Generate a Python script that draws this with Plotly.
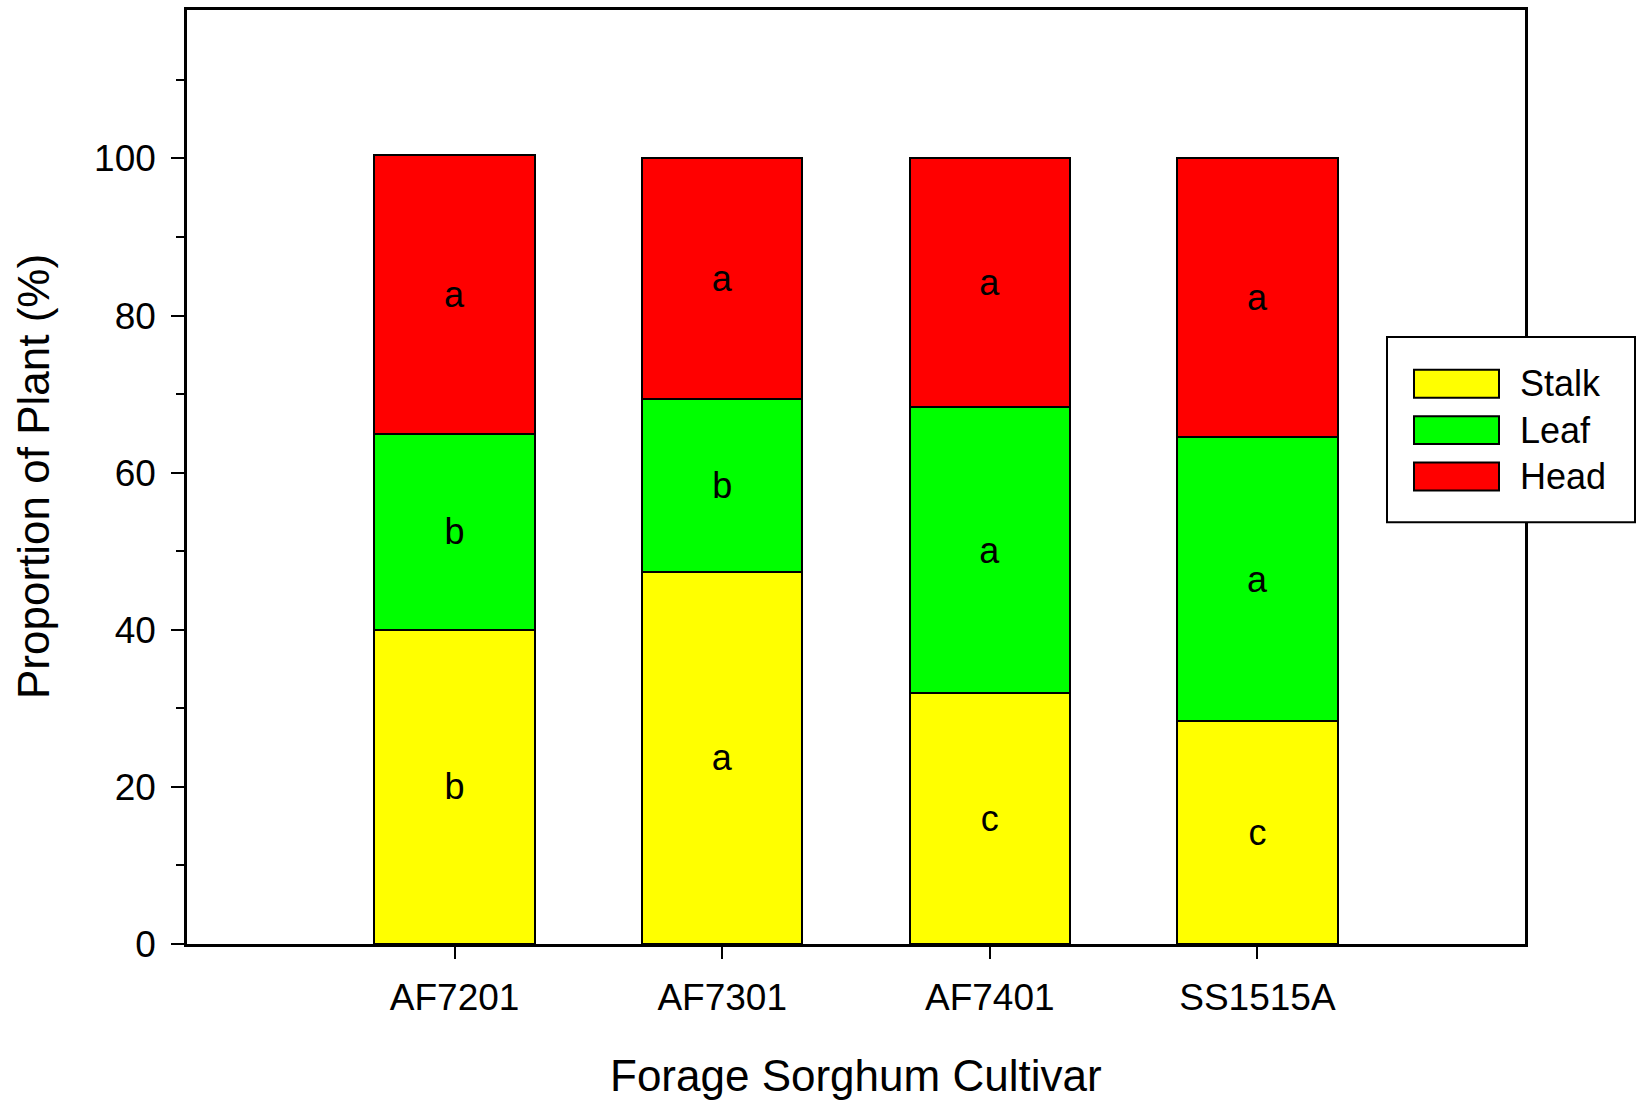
import plotly.graph_objects as go

# Biomass partitioning of four forage sorghum cultivars (% of whole plant)
cultivars = ["AF7201", "AF7301", "AF7401", "SS1515A"]
stalk = [40.0, 47.4, 31.9, 28.4]
leaf = [24.9, 22.0, 36.5, 36.1]
head = [35.5, 30.6, 31.6, 35.5]

# Mean-separation letters for each fraction
stalk_letters = ["b", "a", "c", "c"]
leaf_letters = ["b", "b", "a", "a"]
head_letters = ["a", "a", "a", "a"]

series = [
    ("Stalk", stalk, stalk_letters, "#FFFF00"),
    ("Leaf", leaf, leaf_letters, "#00FF00"),
    ("Head", head, head_letters, "#FF0000"),
]

W, H = 1642, 1104
ML, MR, MT, MB = 187, 117, 7, 160
FONT = "Liberation Sans, Arial, sans-serif"

fig = go.Figure()
for name, vals, letters, color in series:
    fig.add_trace(go.Bar(
        x=cultivars,
        y=vals,
        name=name,
        text=letters,
        textposition="inside",
        insidetextanchor="middle",
        textangle=0,
        textfont=dict(family=FONT, size=36, color="black"),
        marker=dict(color=color, line=dict(color="black", width=2)),
        width=0.6,
        showlegend=False,
        hoverinfo="skip",
    ))

axis_common = dict(
    showline=True,
    linecolor="black",
    linewidth=2.5,
    mirror=True,
    showgrid=False,
    zeroline=False,
    ticks="outside",
    tickcolor="black",
    tickwidth=2,
    tickfont=dict(family=FONT, size=37, color="black"),
)

fig.update_layout(
    width=W,
    height=H,
    margin=dict(l=ML, r=MR, t=MT, b=MB),
    paper_bgcolor="white",
    plot_bgcolor="white",
    barmode="stack",
    font=dict(family=FONT, color="black"),
    xaxis=dict(
        **axis_common,
        type="category",
        range=[-1, 4],
        ticklen=12,
        ticklabelstandoff=7,
    ),
    yaxis=dict(
        **axis_common,
        range=[0, 118.9],
        tickmode="linear",
        tick0=0,
        dtick=20,
        ticklen=13,
        ticklabelstandoff=8,
        minor=dict(ticks="outside", ticklen=8, tickwidth=2, tickcolor="black",
                   tickmode="linear", tick0=0, dtick=10),
    ),
)

# Pixel -> paper coordinate helpers for the frame-relative decorations
PW, PH = W - ML - MR, H - MT - MB


def px(x):
    return (x - ML) / PW


def py(y):
    return (H - MB - y) / PH


# Axis titles
fig.add_annotation(text="Forage Sorghum Cultivar", xref="paper", yref="paper",
                   x=0.5, y=py(1076), xanchor="center", yanchor="middle",
                   showarrow=False, font=dict(family=FONT, size=44, color="black"))
fig.add_annotation(text="Proportion of Plant (%)", xref="paper", yref="paper",
                   x=px(33), y=0.5, xanchor="center", yanchor="middle", textangle=-90,
                   showarrow=False, font=dict(family=FONT, size=44, color="black"))

# Legend box with large swatches
fig.add_shape(type="rect", xref="paper", yref="paper", layer="above",
              x0=px(1387), x1=px(1635), y0=py(335), y1=py(521),
              fillcolor="white", line=dict(color="black", width=2))
swatch_rows = [("Stalk", "#FFFF00", 382), ("Leaf", "#00FF00", 428.5), ("Head", "#FF0000", 475)]
for label, color, cy in swatch_rows:
    fig.add_shape(type="rect", xref="paper", yref="paper", layer="above",
                  x0=px(1414), x1=px(1499), y0=py(cy + 14), y1=py(cy - 14),
                  fillcolor=color, line=dict(color="black", width=2))
    fig.add_annotation(text=label, xref="paper", yref="paper",
                       x=px(1518), y=py(cy), xanchor="left", yanchor="middle",
                       showarrow=False, font=dict(family=FONT, size=36, color="black"))

fig.write_html("out.html")
